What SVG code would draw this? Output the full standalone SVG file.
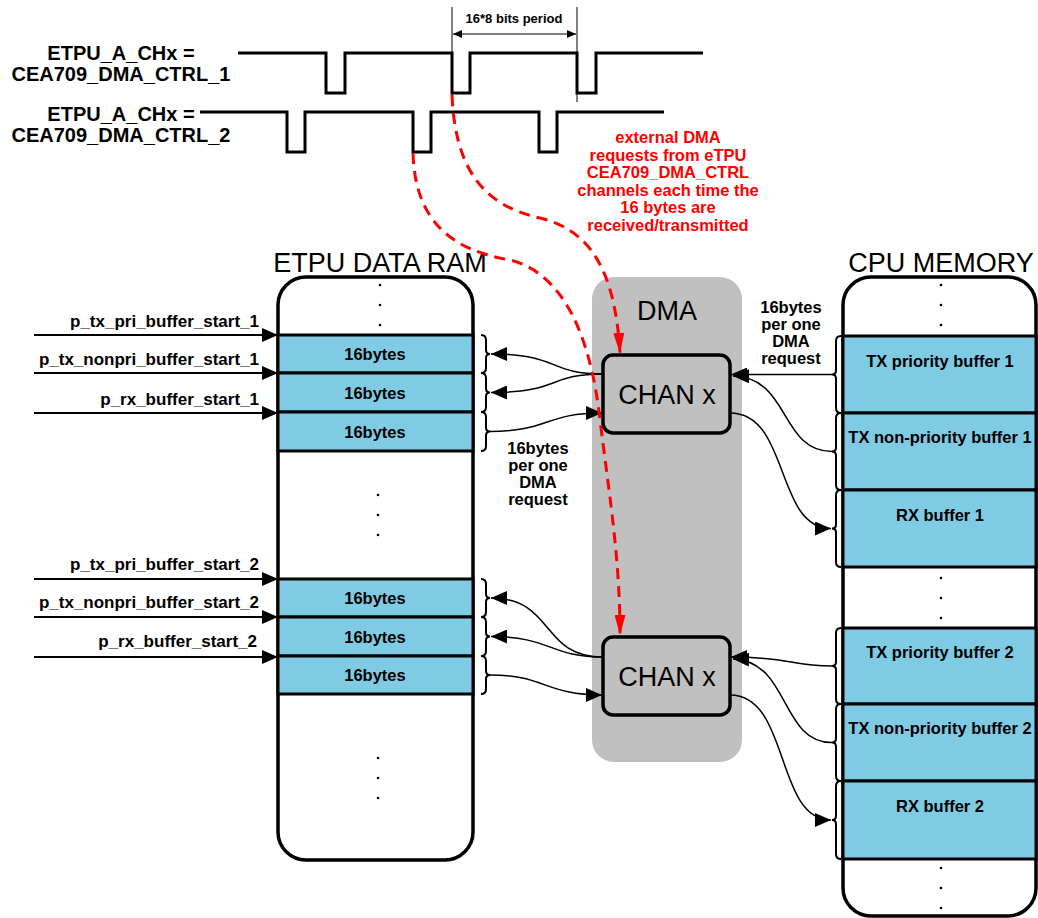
<svg xmlns="http://www.w3.org/2000/svg" width="1038" height="918" viewBox="0 0 1038 918">
<style>
.t{font-family:"Liberation Sans",Arial,sans-serif;font-weight:bold;font-size:16.5px;fill:#000}
.p{font-family:"Liberation Sans",Arial,sans-serif;font-weight:bold;font-size:17px;fill:#000}
.h{font-family:"Liberation Sans",Arial,sans-serif;font-weight:bold;font-size:20px;fill:#000}
.big{font-family:"Liberation Sans",Arial,sans-serif;font-size:27px;fill:#000}
.red{fill:#f00}
.wave{fill:none;stroke:#000;stroke-width:3}
.cell{fill:#7fcbe4;stroke:#000;stroke-width:3}
.frame{fill:#fff;stroke:#000;stroke-width:3.5}
.con{fill:none;stroke:#000;stroke-width:1.5}
.in{fill:none;stroke:#000;stroke-width:2}
.brace{fill:none;stroke:#000;stroke-width:2}
.dash{fill:none;stroke:#f00;stroke-width:3;stroke-dasharray:11 7}
.dot{fill:#000}
</style>
<defs>
<marker id="ah" viewBox="0 0 16 14" refX="16" refY="7" markerWidth="16" markerHeight="14" markerUnits="userSpaceOnUse" orient="auto"><path d="M0,0 L16,7 L0,14 z" fill="#000"/></marker>
<marker id="sa" viewBox="0 0 9 8" refX="9" refY="4" markerWidth="9" markerHeight="8" markerUnits="userSpaceOnUse" orient="auto-start-reverse"><path d="M0,0 L9,4 L0,8 z" fill="#000"/></marker>
<marker id="ra" viewBox="0 0 20 11" refX="20" refY="5.5" markerWidth="20" markerHeight="11" markerUnits="userSpaceOnUse" orient="auto"><path d="M0,0 L20,5.5 L0,11 z" fill="#f00"/></marker>
</defs>
<rect width="1038" height="918" fill="#fff"/>

<g id="timing">
<path class="wave" d="M238,53 H326 V93 H345 V53 H452 V93 H470 V53 H577 V93 H596 V53 H703"/>
<path class="wave" d="M200,112 H287 V152 H305 V112 H413 V152 H431 V112 H539 V152 H557 V112 H664"/>
<text class="h" x="121" y="60" text-anchor="middle">ETPU_A_CHx =</text>
<text class="h" x="121" y="81" text-anchor="middle">CEA709_DMA_CTRL_1</text>
<text class="h" x="121" y="121" text-anchor="middle">ETPU_A_CHx =</text>
<text class="h" x="121" y="142" text-anchor="middle">CEA709_DMA_CTRL_2</text>
<line x1="452" y1="7" x2="452" y2="102" stroke="#000" stroke-width="1"/>
<line x1="577" y1="7" x2="577" y2="102" stroke="#000" stroke-width="1"/>
<line x1="453" y1="34" x2="576" y2="34" stroke="#000" stroke-width="1" marker-start="url(#sa)" marker-end="url(#sa)"/>
<text class="t" style="font-size:13px" x="514" y="23" text-anchor="middle">16*8 bits period</text>
</g>

<g id="note">
<text class="t red" x="668" y="143" text-anchor="middle">external DMA</text>
<text class="t red" x="668" y="161" text-anchor="middle">requests from eTPU</text>
<text class="t red" x="668" y="178" text-anchor="middle">CEA709_DMA_CTRL</text>
<text class="t red" x="668" y="196" text-anchor="middle">channels each time the</text>
<text class="t red" x="668" y="213" text-anchor="middle">16 bytes are</text>
<text class="t red" x="668" y="231" text-anchor="middle">received/transmitted</text>
</g>

<g id="dma">
<rect x="592" y="277" width="150" height="485" rx="22" fill="#c0c0c0"/>
<text class="big" x="667" y="320" text-anchor="middle">DMA</text>
</g>

<g id="etpu-ram">
<text class="big" x="380" y="272" text-anchor="middle">ETPU DATA RAM</text>
<rect class="frame" x="278" y="277" width="195" height="583" rx="28"/>
<circle class="dot" cx="380" cy="285" r="1.3"/><circle class="dot" cx="380" cy="305" r="1.3"/><circle class="dot" cx="380" cy="325" r="1.3"/>
<rect class="cell" x="278" y="335" width="195" height="38"/>
<rect class="cell" x="278" y="373" width="195" height="39"/>
<rect class="cell" x="278" y="412" width="195" height="39"/>
<text class="t" x="375" y="360" text-anchor="middle">16bytes</text>
<text class="t" x="375" y="399" text-anchor="middle">16bytes</text>
<text class="t" x="375" y="438" text-anchor="middle">16bytes</text>
<circle class="dot" cx="378" cy="495" r="1.3"/><circle class="dot" cx="378" cy="515" r="1.3"/><circle class="dot" cx="378" cy="535" r="1.3"/>
<rect class="cell" x="278" y="579" width="195" height="38"/>
<rect class="cell" x="278" y="617" width="195" height="39"/>
<rect class="cell" x="278" y="656" width="195" height="38"/>
<text class="t" x="375" y="604" text-anchor="middle">16bytes</text>
<text class="t" x="375" y="643" text-anchor="middle">16bytes</text>
<text class="t" x="375" y="681" text-anchor="middle">16bytes</text>
<circle class="dot" cx="378" cy="758" r="1.3"/><circle class="dot" cx="378" cy="778" r="1.3"/><circle class="dot" cx="378" cy="798" r="1.3"/>
</g>

<g id="pointers">
<text class="p" x="259" y="327" text-anchor="end">p_tx_pri_buffer_start_1</text>
<text class="p" x="259" y="365" text-anchor="end">p_tx_nonpri_buffer_start_1</text>
<text class="p" x="259" y="405" text-anchor="end">p_rx_buffer_start_1</text>
<text class="p" x="259" y="570" text-anchor="end">p_tx_pri_buffer_start_2</text>
<text class="p" x="259" y="608" text-anchor="end">p_tx_nonpri_buffer_start_2</text>
<text class="p" x="257" y="647" text-anchor="end">p_rx_buffer_start_2</text>
</g>

<g id="cpu-memory">
<text class="big" x="941" y="272" text-anchor="middle">CPU MEMORY</text>
<rect class="frame" x="843" y="277" width="193" height="639" rx="28"/>
<circle class="dot" cx="941" cy="285" r="1.3"/><circle class="dot" cx="941" cy="305" r="1.3"/><circle class="dot" cx="941" cy="325" r="1.3"/>
<rect class="cell" x="843" y="336" width="193" height="77"/>
<rect class="cell" x="843" y="413" width="193" height="77"/>
<rect class="cell" x="843" y="490" width="193" height="77"/>
<text class="t" x="940" y="367" text-anchor="middle">TX priority buffer 1</text>
<text class="t" x="940" y="443" text-anchor="middle">TX non-priority buffer 1</text>
<text class="t" x="940" y="521" text-anchor="middle">RX buffer 1</text>
<circle class="dot" cx="941" cy="578" r="1.3"/><circle class="dot" cx="941" cy="598" r="1.3"/><circle class="dot" cx="941" cy="618" r="1.3"/>
<rect class="cell" x="843" y="628" width="193" height="76"/>
<rect class="cell" x="843" y="704" width="193" height="77"/>
<rect class="cell" x="843" y="781" width="193" height="78"/>
<text class="t" x="940" y="658" text-anchor="middle">TX priority buffer 2</text>
<text class="t" x="940" y="734" text-anchor="middle">TX non-priority buffer 2</text>
<text class="t" x="940" y="812" text-anchor="middle">RX buffer 2</text>
<circle class="dot" cx="941" cy="868" r="1.3"/><circle class="dot" cx="941" cy="888" r="1.3"/><circle class="dot" cx="941" cy="908" r="1.3"/>
</g>

<g id="chan1">
<rect x="603" y="355" width="127" height="78" rx="10" fill="#c0c0c0" stroke="#000" stroke-width="3.5"/>
<text class="big" x="667" y="404" text-anchor="middle">CHAN x</text>
</g>
<g id="chan2">
<rect x="603" y="637" width="127" height="78" rx="10" fill="#c0c0c0" stroke="#000" stroke-width="3.5"/>
<text class="big" x="667" y="686" text-anchor="middle">CHAN x</text>
</g>

<g id="labels">
<text class="t" x="791" y="313" text-anchor="middle">16bytes</text>
<text class="t" x="791" y="330" text-anchor="middle">per one</text>
<text class="t" x="791" y="347" text-anchor="middle">DMA</text>
<text class="t" x="791" y="364" text-anchor="middle">request</text>
<text class="t" x="538" y="454" text-anchor="middle">16bytes</text>
<text class="t" x="538" y="471" text-anchor="middle">per one</text>
<text class="t" x="538" y="488" text-anchor="middle">DMA</text>
<text class="t" x="538" y="505" text-anchor="middle">request</text>
</g>

<g id="braces">
<path class="brace" d="M481,335 Q486,335 486,340 V350 Q486,354 490,354 Q486,354 486,358 V368 Q486,373 481,373"/>
<path class="brace" d="M481,373 Q486,373 486,378 V388.5 Q486,392.5 490,392.5 Q486,392.5 486,396.5 V407 Q486,412 481,412"/>
<path class="brace" d="M481,412 Q486,412 486,417 V427.5 Q486,431.5 490,431.5 Q486,431.5 486,435.5 V446 Q486,451 481,451"/>
<path class="brace" d="M481,579 Q486,579 486,584 V594 Q486,598 490,598 Q486,598 486,602 V612 Q486,617 481,617"/>
<path class="brace" d="M481,617 Q486,617 486,622 V632.5 Q486,636.5 490,636.5 Q486,636.5 486,640.5 V651 Q486,656 481,656"/>
<path class="brace" d="M481,656 Q486,656 486,661 V671 Q486,675 490,675 Q486,675 486,679 V689 Q486,694 481,694"/>
<path class="brace" d="M841,336 Q836,336 836,341 V370.5 Q836,374.5 832,374.5 Q836,374.5 836,378.5 V408 Q836,413 841,413"/>
<path class="brace" d="M841,413 Q836,413 836,418 V447.5 Q836,451.5 832,451.5 Q836,451.5 836,455.5 V485 Q836,490 841,490"/>
<path class="brace" d="M841,490 Q836,490 836,495 V524.5 Q836,528.5 832,528.5 Q836,528.5 836,532.5 V562 Q836,567 841,567"/>
<path class="brace" d="M841,628 Q836,628 836,633 V662 Q836,666 832,666 Q836,666 836,670 V699 Q836,704 841,704"/>
<path class="brace" d="M841,704 Q836,704 836,709 V738.5 Q836,742.5 832,742.5 Q836,742.5 836,746.5 V776 Q836,781 841,781"/>
<path class="brace" d="M841,781 Q836,781 836,786 V816 Q836,820 832,820 Q836,820 836,824 V854 Q836,859 841,859"/>
</g>

<g id="connectors">
<path class="in" d="M34,335 H278" marker-end="url(#ah)"/>
<path class="in" d="M34,373 H278" marker-end="url(#ah)"/>
<path class="in" d="M34,413 H278" marker-end="url(#ah)"/>
<path class="in" d="M34,579 H278" marker-end="url(#ah)"/>
<path class="in" d="M34,617 H278" marker-end="url(#ah)"/>
<path class="in" d="M34,657 H278" marker-end="url(#ah)"/>
<path class="con" d="M603,374 C548,374 560,354 491,354" marker-end="url(#ah)"/>
<path class="con" d="M603,374 C548,374 560,392.5 491,392.5" marker-end="url(#ah)"/>
<path class="con" d="M490,431.5 C548,431.5 545,413 602,413" marker-end="url(#ah)"/>
<path class="con" d="M832,374.5 H731" marker-end="url(#ah)"/>
<path class="con" d="M832,451.5 C780,451.5 790,377 733,376" marker-end="url(#ah)"/>
<path class="con" d="M730,413 C790,413 775,528.5 831,528.5" marker-end="url(#ah)"/>
<path class="con" d="M603,657 C540,657 555,598 491,598" marker-end="url(#ah)"/>
<path class="con" d="M603,657 C550,657 550,636.5 491,636.5" marker-end="url(#ah)"/>
<path class="con" d="M490,675 C545,675 545,695 602,695" marker-end="url(#ah)"/>
<path class="con" d="M832,666 C790,666 790,657 731,657" marker-end="url(#ah)"/>
<path class="con" d="M832,742.5 C780,742.5 790,661 733,659" marker-end="url(#ah)"/>
<path class="con" d="M730,695 C790,695 775,820 831,820" marker-end="url(#ah)"/>
<path class="dash" d="M452,95 C455,165 480,205 540,218 C590,230 615,270 620,353" marker-end="url(#ra)"/>
<path class="dash" d="M413,153 C415,220 450,250 510,260 C560,272 590,330 600,420 C610,500 620,560 620,635" marker-end="url(#ra)"/>
</g>
</svg>
